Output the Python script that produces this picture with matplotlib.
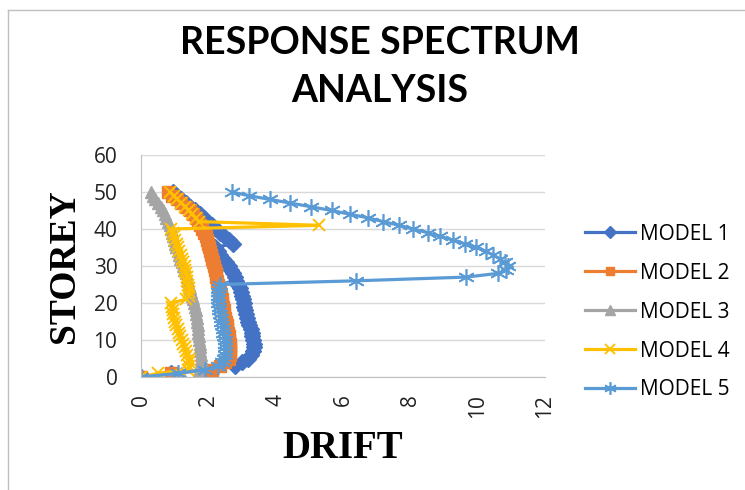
import numpy as np
import matplotlib
matplotlib.use('Agg')
import matplotlib.pyplot as plt
from matplotlib.lines import Line2D

# storey levels (same for every model)
storeys = list(range(0, 51))

# drift values, storey 0 .. 50
model1 = [0, 0.9, 1.9, 2.8, 3.0, 3.18, 3.28, 3.33, 3.35, 3.35,
          3.33, 3.31, 3.29, 3.26, 3.22, 3.19, 3.16, 3.13, 3.1, 3.07,
          3.05, 3.03, 3.0, 2.97, 2.93, 2.88, 2.83, 2.78, 2.72, 2.66,
          2.6, 2.52, 2.44, 2.36, 2.28, 2.2, 2.73, 2.6, 2.48, 2.36,
          2.24, 2.12, 2.0, 1.87, 1.75, 1.6, 1.46, 1.33, 1.2, 1.08,
          0.95]
model2 = [0, 0.9, 2.1, 2.35, 2.5, 2.6, 2.63, 2.65, 2.65, 2.64,
          2.62, 2.6, 2.58, 2.56, 2.54, 2.52, 2.5, 2.48, 2.46, 2.44,
          2.42, 2.4, 2.37, 2.34, 2.31, 2.28, 2.26, 2.24, 2.22, 2.2,
          2.17, 2.14, 2.11, 2.08, 2.06, 2.03, 2.0, 1.96, 1.92, 1.87,
          1.82, 1.76, 1.7, 1.63, 1.55, 1.45, 1.33, 1.2, 1.07, 0.93,
          0.8]
model3 = [0, 1.2, 1.72, 1.76, 1.78, 1.78, 1.77, 1.76, 1.75, 1.74,
          1.72, 1.71, 1.7, 1.69, 1.68, 1.67, 1.66, 1.64, 1.62, 1.6,
          1.58, 1.55, 1.52, 1.49, 1.46, 1.43, 1.4, 1.37, 1.33, 1.29,
          1.25, 1.21, 1.17, 1.13, 1.09, 1.05, 1.01, 0.98, 0.95, 0.92,
          0.89, 0.85, 0.8, 0.75, 0.7, 0.65, 0.58, 0.5, 0.43, 0.36,
          0.3]
model4 = [0, 0.5, 1.4, 1.43, 1.43, 1.42, 1.38, 1.34, 1.3, 1.25,
          1.21, 1.17, 1.13, 1.09, 1.05, 1.02, 0.99, 0.96, 0.94, 0.92,
          0.88, 1.35, 1.42, 1.43, 1.42, 1.4, 1.38, 1.36, 1.34, 1.32,
          1.3, 1.26, 1.22, 1.18, 1.14, 1.1, 1.06, 1.02, 0.98, 0.94,
          0.9, 5.3, 1.72, 1.62, 1.52, 1.42, 1.32, 1.2, 1.08, 0.97,
          0.86]
model5 = [0, 1.1, 1.9, 2.3, 2.42, 2.47, 2.49, 2.5, 2.5, 2.5,
          2.49, 2.47, 2.45, 2.43, 2.41, 2.39, 2.37, 2.35, 2.33, 2.31,
          2.29, 2.28, 2.28, 2.29, 2.31, 2.35, 6.4, 9.65, 10.6, 10.85,
          10.9, 10.8, 10.65, 10.45, 10.24, 9.96, 9.61, 9.27, 8.87, 8.52,
          8.08, 7.67, 7.19, 6.75, 6.2, 5.66, 5.06, 4.44, 3.83, 3.21,
          2.69]

labels = ['MODEL 1', 'MODEL 2', 'MODEL 3', 'MODEL 4', 'MODEL 5']
colors = ['#4472C4', '#ED7D31', '#A5A5A5', '#FFC000', '#5B9BD5']
xticks = [0, 2, 4, 6, 8, 10, 12]
yticks = [0, 10, 20, 30, 40, 50, 60]

W, H = 745, 490
fig = plt.figure(figsize=(W / 100, H / 100), dpi=100)
ax = fig.add_axes([141 / W, 1 - 377 / H, (545 - 141) / W, (377 - 155) / H])

styles = [
    dict(marker='D', markersize=8),
    dict(marker='s', markersize=8.5),
    dict(marker='^', markersize=9),
    dict(marker='x', markersize=9, markeredgewidth=1.4),
    dict(marker=(6, 2, 0), markersize=12, markeredgewidth=1.2),
]
series = [model1, model2, model3, model4, model5]
for xs, lab, col, st in zip(series, labels, colors, styles):
    ax.plot(xs, storeys, color=col, lw=2.3, label=lab,
            markerfacecolor=col, markeredgecolor=col, **st)

ax.set_xlim(0, 12)
ax.set_ylim(0, 60)
ax.set_xticks(xticks)
ax.set_yticks(yticks)
ax.grid(axis='y', color='#D9D9D9', lw=1)
ax.set_axisbelow(True)
for s in ['top', 'right']:
    ax.spines[s].set_visible(False)
for s in ['left', 'bottom']:
    ax.spines[s].set_color('#BFBFBF')
ax.tick_params(length=0, labelsize=15, labelcolor='#222222')
for t in ax.get_yticklabels():
    t.set_family('Open Sans')
for t in ax.get_xticklabels():
    t.set_family('Open Sans')
    t.set_rotation(90)
    t.set_va('top')
ax.tick_params(axis='x', pad=12)
ax.tick_params(axis='y', pad=17)

fig.text(380 / W, 1 - 43 / H, 'RESPONSE SPECTRUM', ha='center', va='center',
         fontsize=27, fontweight='bold', family='Lato')
fig.text(380 / W, 1 - 91 / H, 'ANALYSIS', ha='center', va='center',
         fontsize=27, fontweight='bold', family='Lato')
fig.text(343 / W, 1 - 448 / H, 'DRIFT', ha='center', va='center',
         fontsize=28, fontweight='bold', family='Liberation Serif')
fig.text(64 / W, 1 - 266 / H, 'STOREY', ha='center', va='center', rotation=90,
         fontsize=27, fontweight='bold', family='Liberation Serif')

fig.legend(loc='upper left', bbox_to_anchor=(566 / W, 1 - 205 / H),
           frameon=False, prop={'family': 'Open Sans', 'size': 15},
           handlelength=2.4, handletextpad=0.25, labelspacing=0.86,
           markerscale=0.75)

# chart area border (top and left edges visible)
fig.add_artist(Line2D([8 / W, 1], [1 - 10 / H, 1 - 10 / H], color='#BFBFBF', lw=1))
fig.add_artist(Line2D([8 / W, 8 / W], [0, 1 - 10 / H], color='#BFBFBF', lw=1))

fig.savefig('out.png', dpi=100)
